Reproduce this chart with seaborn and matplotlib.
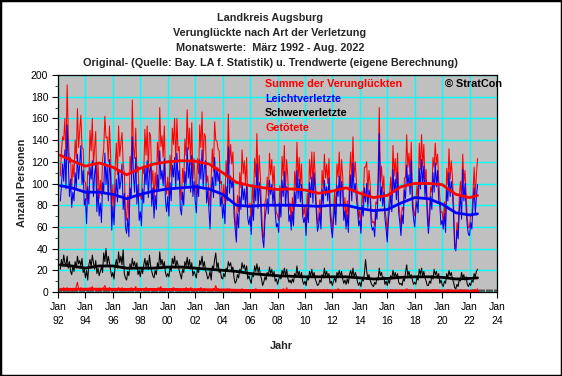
import matplotlib.pyplot as plt
import seaborn as sns
import numpy as np
import pandas as pd
from matplotlib.patches import Rectangle

# Monatswerte Maerz 1992 - Aug. 2022 (eine Zeile pro Jahr)
months = pd.date_range('1992-03-01', '2022-08-01', freq='MS')

leicht = [
    84, 97, 118, 102, 131, 95, 154, 121, 88, 104,
    78, 92, 84, 110, 96, 127, 104, 118, 135, 99, 112, 80,
    86, 63, 97, 81, 115, 104, 121, 88, 109, 117, 74, 95,
    70, 82, 64, 101, 92, 128, 99, 116, 84, 122, 106, 57,
    79, 62, 88, 104, 83, 112, 95, 102, 118, 76, 91, 60,
    54, 68, 51, 96, 86, 143, 107, 92, 124, 81, 99, 66,
    74, 61, 95, 82, 116, 99, 121, 87, 110, 118, 79, 96,
    68, 89, 76, 108, 93, 130, 104, 112, 98, 123, 85, 74,
    88, 70, 101, 84, 117, 106, 124, 95, 128, 103, 112, 77,
    71, 92, 80, 111, 98, 133, 105, 119, 92, 126, 88, 102,
    84, 73, 99, 88, 122, 104, 131, 96, 115, 121, 82, 94,
    76, 58, 92, 106, 87, 124, 98, 115, 102, 110, 79, 88,
    68, 81, 63, 97, 84, 134, 91, 107, 96, 104, 71, 58,
    46, 72, 59, 88, 76, 101, 85, 95, 79, 98, 68, 62,
    70, 53, 81, 66, 97, 84, 118, 77, 101, 89, 63, 49,
    41, 67, 75, 86, 72, 103, 90, 99, 81, 96, 74, 60,
    63, 55, 82, 69, 103, 88, 111, 79, 97, 92, 65, 71,
    57, 74, 61, 92, 80, 112, 86, 104, 83, 99, 70, 64,
    69, 52, 77, 64, 101, 87, 106, 82, 110, 91, 73, 56,
    61, 73, 58, 95, 81, 103, 89, 97, 84, 105, 72, 59,
    50, 67, 79, 62, 98, 88, 107, 80, 102, 94, 66, 75,
    58, 71, 55, 89, 108, 84, 119, 92, 100, 86, 77, 61,
    66, 54, 80, 70, 96, 83, 100, 78, 94, 88, 62, 57,
    60, 51, 75, 67, 93, 146, 84, 97, 79, 92, 68, 58,
    46, 66, 78, 89, 74, 113, 92, 104, 85, 110, 73, 64,
    52, 71, 63, 94, 86, 117, 98, 108, 90, 121, 79, 68,
    60, 75, 84, 73, 114, 95, 122, 99, 116, 88, 103, 70,
    54, 68, 88, 76, 110, 92, 119, 97, 112, 85, 79, 62,
    66, 58, 72, 55, 96, 84, 110, 88, 102, 93, 71, 40,
    38, 57, 49, 74, 90, 67, 113, 84, 100, 76, 61, 53,
    52, 64, 58, 81, 96, 72, 88, 99,
]

schwer = [
    21, 30, 24, 34, 27, 25, 33, 22, 28, 19,
    16, 24, 19, 28, 22, 33, 26, 29, 24, 31, 18, 21,
    13, 20, 11, 25, 30, 23, 34, 27, 21, 29, 17, 22,
    15, 19, 23, 18, 36, 28, 40, 25, 33, 27, 20, 14,
    18, 12, 24, 30, 22, 37, 27, 33, 25, 39, 17, 13,
    11, 19, 15, 26, 21, 31, 24, 28, 22, 27, 16, 20,
    14, 22, 17, 25, 31, 23, 29, 21, 34, 24, 19, 15,
    13, 20, 16, 27, 22, 37, 25, 30, 23, 28, 18, 14,
    17, 14, 23, 19, 31, 26, 33, 22, 29, 25, 20, 16,
    12, 21, 18, 28, 24, 32, 23, 30, 21, 27, 15, 19,
    16, 13, 22, 18, 29, 25, 33, 23, 28, 20, 17, 12,
    14, 19, 11, 24, 21, 30, 36, 22, 27, 18, 20, 13,
    12, 17, 14, 22, 19, 28, 24, 27, 20, 23, 13, 8,
    10, 16, 13, 21, 18, 27, 22, 25, 19, 24, 12, 15,
    11, 8, 17, 14, 24, 19, 26, 18, 23, 16, 12, 6,
    9, 14, 11, 18, 15, 23, 17, 21, 14, 19, 10, 12,
    7, 11, 15, 12, 20, 16, 22, 14, 21, 13, 9, 11,
    8, 12, 9, 17, 14, 24, 15, 19, 13, 18, 10, 7,
    10, 6, 13, 11, 19, 15, 21, 14, 18, 12, 9, 6,
    7, 11, 9, 16, 13, 22, 15, 19, 14, 17, 8, 10,
    6, 10, 13, 9, 18, 15, 20, 14, 19, 12, 8, 11,
    7, 12, 8, 16, 20, 14, 22, 13, 18, 15, 9, 6,
    9, 5, 12, 10, 17, 30, 19, 13, 16, 11, 8, 6,
    5, 9, 7, 13, 11, 22, 15, 18, 12, 14, 7, 10,
    6, 11, 8, 15, 12, 20, 14, 18, 13, 17, 9, 7,
    8, 6, 12, 10, 18, 25, 15, 19, 14, 16, 11, 7,
    9, 7, 13, 11, 21, 16, 22, 14, 19, 13, 10, 6,
    6, 10, 8, 15, 12, 21, 16, 19, 13, 17, 8, 11,
    7, 5, 10, 8, 17, 13, 20, 15, 18, 12, 9, 4,
    3, 7, 5, 12, 10, 18, 13, 16, 11, 14, 7, 5,
    8, 6, 11, 9, 17, 14, 19, 21,
]

getoetet = [
    2, 3, 1, 4, 2, 3, 4, 2, 3, 1,
    1, 2, 3, 2, 5, 9, 3, 2, 4, 3, 2, 1,
    2, 1, 3, 2, 4, 3, 5, 2, 3, 2, 1, 2,
    1, 2, 2, 3, 4, 6, 3, 2, 3, 4, 2, 1,
    2, 1, 2, 3, 3, 4, 3, 2, 4, 3, 2, 1,
    1, 2, 2, 3, 4, 3, 2, 3, 5, 2, 1, 2,
    1, 2, 3, 2, 3, 4, 3, 2, 3, 2, 2, 1,
    2, 1, 2, 3, 4, 3, 5, 2, 3, 2, 1, 2,
    1, 2, 2, 3, 3, 4, 3, 2, 3, 2, 2, 1,
    2, 1, 3, 2, 4, 3, 3, 2, 4, 3, 1, 2,
    1, 1, 2, 3, 3, 4, 2, 2, 3, 2, 2, 1,
    1, 2, 2, 2, 3, 3, 6, 2, 3, 2, 1, 1,
    1, 1, 2, 2, 3, 2, 3, 2, 2, 2, 1, 1,
    0, 1, 2, 1, 2, 3, 2, 1, 2, 2, 1, 1,
    1, 0, 1, 2, 2, 3, 2, 1, 2, 1, 1, 0,
    0, 1, 1, 2, 2, 2, 1, 2, 2, 1, 0, 1,
    1, 0, 1, 1, 2, 3, 2, 1, 4, 1, 1, 0,
    0, 1, 1, 2, 2, 2, 1, 1, 2, 1, 1, 0,
    1, 0, 1, 1, 2, 2, 2, 1, 1, 2, 0, 1,
    0, 1, 1, 1, 2, 2, 1, 2, 2, 1, 1, 0,
    1, 0, 1, 1, 2, 3, 2, 1, 1, 1, 0, 1,
    0, 1, 1, 2, 1, 2, 2, 1, 2, 1, 1, 0,
    1, 0, 1, 1, 2, 2, 1, 1, 2, 1, 0, 1,
    0, 1, 1, 1, 2, 2, 2, 1, 1, 1, 1, 0,
    1, 0, 1, 2, 1, 2, 1, 1, 2, 1, 0, 1,
    0, 1, 0, 1, 2, 3, 2, 1, 1, 1, 1, 0,
    1, 0, 1, 1, 2, 2, 1, 2, 1, 1, 0, 1,
    0, 1, 1, 1, 2, 2, 2, 1, 2, 1, 0, 0,
    1, 0, 1, 1, 1, 2, 2, 1, 1, 1, 1, 0,
    0, 0, 1, 1, 2, 2, 1, 1, 1, 1, 0, 1,
    0, 1, 1, 1, 2, 2, 1, 3,
]

trend_years = [1992.17, 1993, 1994, 1995, 1996, 1997, 1998, 1999, 2000, 2001,
               2002, 2003, 2004, 2005, 2006, 2007, 2008, 2009, 2010, 2011,
               2012, 2013, 2014, 2015, 2016, 2017, 2018, 2019, 2020, 2021,
               2022, 2022.58]
trend_summe = [126, 121, 116, 119, 115, 108, 114, 118, 120, 121,
               120.5, 118, 110, 101, 98, 96, 94.5, 95, 94, 91,
               93, 96, 91, 87, 89, 97, 100, 100, 99, 90,
               87, 89]
trend_leicht = [98, 96, 92, 92, 90, 86, 90, 93, 95, 96,
                97, 95, 90, 80, 79, 80, 80, 80, 79.5, 79,
                80, 80, 77, 75, 76, 82, 87, 86, 81, 73,
                71, 72]
trend_schwer = [25, 24, 22, 24, 24, 22, 22, 22, 23, 23,
                22, 21, 20, 19, 17, 16, 15, 14.5, 14, 14,
                14, 14, 13, 12, 12.5, 13.5, 14, 14, 13.5, 12,
                12.5, 13]
trend_getoetet = [2.5, 2.5, 2.6, 2.6, 2.5, 2.4, 2.4, 2.4, 2.3, 2.3,
                  2.2, 2.1, 1.9, 1.6, 1.4, 1.3, 1.2, 1.2, 1.1, 1.1,
                  1.1, 1.1, 1.0, 1.0, 1.0, 1.0, 1.0, 1.0, 1.0, 0.9,
                  0.9, 0.9]

year_ticks = list(range(1992, 2025, 2))

assert len(leicht) == len(schwer) == len(getoetet) == len(months)

df = pd.DataFrame({
    'jahr': months.year + (months.month - 1) / 12,
    'leicht': leicht,
    'schwer': schwer,
    'getoetet': getoetet,
})
df['summe'] = df['leicht'] + df['schwer'] + df['getoetet']

sns.set_style('ticks')
plt.rcParams['font.family'] = ['Liberation Sans', 'DejaVu Sans']

fig = plt.figure(figsize=(5.62, 3.76), dpi=100)
ax = fig.add_axes([58 / 562, 1 - 292 / 376, 439 / 562, 217 / 376])
ax.set_facecolor('#C0C0C0')
ax.grid(True, color='#00FFFF', linewidth=1.0)
ax.set_axisbelow(True)

thin = 0.75
thick = 2.0
# Originalwerte
sns.lineplot(data=df, x='jahr', y='summe', color='#FF0000', linewidth=thin, ax=ax)
sns.lineplot(data=df, x='jahr', y='leicht', color='#0000FF', linewidth=thin, ax=ax)
sns.lineplot(data=df, x='jahr', y='schwer', color='black', linewidth=thin, ax=ax)
sns.lineplot(data=df, x='jahr', y='getoetet', color='#FF0000', linewidth=thin, ax=ax)

# Trendwerte
sns.lineplot(x=trend_years, y=trend_summe, color='#FF0000', linewidth=thick, ax=ax)
sns.lineplot(x=trend_years, y=trend_leicht, color='#0000FF', linewidth=thick, ax=ax)
sns.lineplot(x=trend_years, y=trend_schwer, color='black', linewidth=thick, ax=ax)
sns.lineplot(x=trend_years, y=trend_getoetet, color='#FF0000', linewidth=thick, ax=ax)

ax.set_xlim(1992, 2024)
ax.set_ylim(0, 200)
ax.set_xticks(year_ticks)
ax.set_xticklabels([f'Jan\n{y % 100:02d}' for y in year_ticks], linespacing=1.55)
ax.set_xticks(np.arange(1992, 2024, 1 / 12), minor=True)
ax.set_yticks(range(0, 201, 20))
ax.set_yticks(range(0, 201, 10), minor=True)
ax.tick_params(axis='both', which='major', labelsize=7.5, length=4, width=0.8,
               colors='black', pad=3)
ax.tick_params(axis='x', which='minor', direction='in', length=2.5, width=0.5)
ax.tick_params(axis='y', which='minor', length=2, width=0.6)
ax.set_xlabel('')
ax.set_ylabel('')
for s in ax.spines.values():
    s.set_color('black')
    s.set_linewidth(0.9)

# Titel
title_lines = ['Landkreis Augsburg',
               'Verunglückte nach Art der Verletzung',
               'Monatswerte:  März 1992 - Aug. 2022',
               'Original- (Quelle: Bay. LA f. Statistik) u. Trendwerte (eigene Berechnung)']
for i, line in enumerate(title_lines):
    fig.text(270 / 562, 1 - (18 + 15 * i) / 376, line, ha='center', va='center',
             fontsize=7.8, fontweight='bold')

fig.text(22 / 562, 1 - 183 / 376, 'Anzahl Personen', rotation=90, ha='center',
         va='center', fontsize=7.8, fontweight='bold')
fig.text(281 / 562, 1 - 346 / 376, 'Jahr', ha='center', va='center',
         fontsize=7.8, fontweight='bold')

# Legende als farbige Texte
legend_items = [('Summe der Verunglückten', '#FF0000'),
                ('Leichtverletzte', '#0000FF'),
                ('Schwerverletzte', 'black'),
                ('Getötete', '#FF0000')]
for i, (txt, col) in enumerate(legend_items):
    fig.text(265 / 562, 1 - (84 + 14.7 * i) / 376, txt, color=col, ha='left',
             va='center', fontsize=7.8, fontweight='bold')
fig.text(445 / 562, 1 - 84 / 376, '© StratCon', color='black', ha='left',
         va='center', fontsize=7.8, fontweight='bold')

fig.patches.append(Rectangle((0, 0), 1, 1, transform=fig.transFigure, fill=False,
                             edgecolor='black', linewidth=2.5))

plt.savefig('out.png', dpi=100, facecolor='white')
plt.close()
